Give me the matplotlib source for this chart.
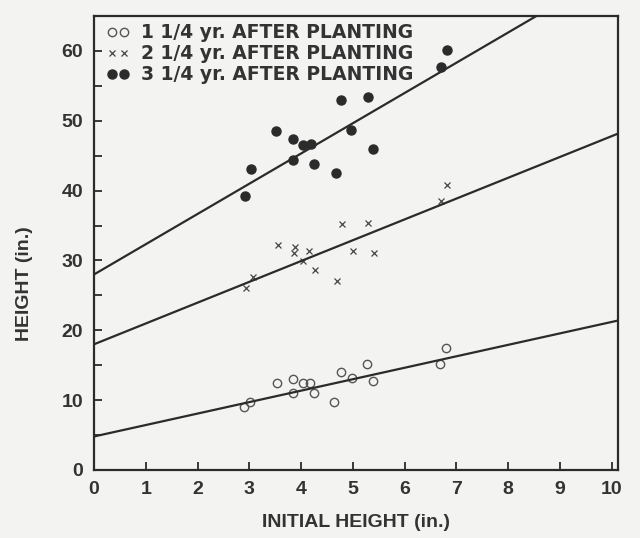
import numpy as np
import matplotlib.pyplot as plt

# initial height (in.) and height after planting (in.)
x_1yr = [6.79, 6.69, 5.27, 4.77, 4.99, 5.39, 3.53, 3.85, 4.03, 4.17, 3.84, 4.25, 4.64, 3.01, 2.90]
h_1yr = [17.4, 15.2, 15.2, 14.0, 13.2, 12.8, 12.5, 13.0, 12.5, 12.5, 11.0, 11.0, 9.8, 9.8, 9.0]

x_2yr = [6.82, 6.71, 4.78, 5.29, 3.55, 3.88, 3.87, 4.16, 5.01, 5.40, 4.04, 4.27, 4.69, 3.07, 2.94]
h_2yr = [40.8, 38.5, 35.2, 35.4, 32.2, 31.9, 31.1, 31.4, 31.4, 31.1, 29.9, 28.7, 27.1, 27.7, 26.1]

x_3yr = [6.82, 6.71, 4.76, 5.29, 3.52, 4.97, 3.85, 4.03, 4.19, 5.39, 3.85, 4.25, 3.03, 4.67, 2.92]
h_3yr = [60.2, 57.7, 53.0, 53.4, 48.5, 48.7, 47.4, 46.6, 46.7, 46.0, 44.4, 43.8, 43.1, 42.5, 39.2]

# fitted lines as drawn: intercept, slope
fit_1yr = (4.8, 1.64)
fit_2yr = (18.0, 2.98)
fit_3yr = (28.0, 4.33)

labels = ["1 1/4 yr. AFTER PLANTING", "2 1/4 yr. AFTER PLANTING", "3 1/4 yr. AFTER PLANTING"]

ink = '#2b2b2b'
bg = '#f3f3f1'
plt.rcParams['font.family'] = ['Liberation Sans', 'DejaVu Sans']
plt.rcParams['font.weight'] = 'bold'

fig = plt.figure(figsize=(6.4, 5.38), dpi=100, facecolor=bg)
ax = fig.add_axes([0.147, 0.1264, 0.8186, 0.8439], facecolor=bg)

ax.plot(x_1yr, h_1yr, 'o', mfc='none', mec='#555555', mew=1.0, ms=6, label=labels[0])
ax.plot(x_2yr, h_2yr, 'x', color='#444444', mew=0.9, ms=4.5, label=labels[1])
ax.plot(x_3yr, h_3yr, 'o', color=ink, ms=6.5, label=labels[2])

for b, m in (fit_1yr, fit_2yr, fit_3yr):
    ax.axline((0, b), slope=m, color=ink, lw=1.6)

ax.set_xlim(0, 10.12)
ax.set_ylim(0, 65)
ax.set_xticks(range(0, 11))
ax.set_yticks(range(0, 61, 10))
ax.set_yticks(range(5, 61, 10), minor=True)

for s in ax.spines.values():
    s.set_color(ink)
    s.set_linewidth(1.6)

ax.tick_params(axis='both', which='both', direction='in', length=6, width=1.3,
               color=ink, labelsize=14, labelcolor='#333333', pad=8)

ax.set_xlabel("INITIAL HEIGHT (in.)", fontsize=14, color='#333333', fontweight='bold')
ax.set_ylabel("HEIGHT (in.)", fontsize=14, color='#333333', fontweight='bold')
ax.xaxis.set_label_coords(0.5, -0.097)
ax.yaxis.set_label_coords(-0.116, 0.41)

leg = ax.legend(loc='upper left', numpoints=2, frameon=False,
                prop={'family': 'DejaVu Sans', 'weight': 'bold', 'size': 13.5},
                handlelength=1.2, handletextpad=0.6, labelspacing=0.1,
                borderaxespad=0.0, bbox_to_anchor=(0.01, 1.0))
for t in leg.get_texts():
    t.set_color('#333333')

fig.savefig('out.png', dpi=100, facecolor=bg)
